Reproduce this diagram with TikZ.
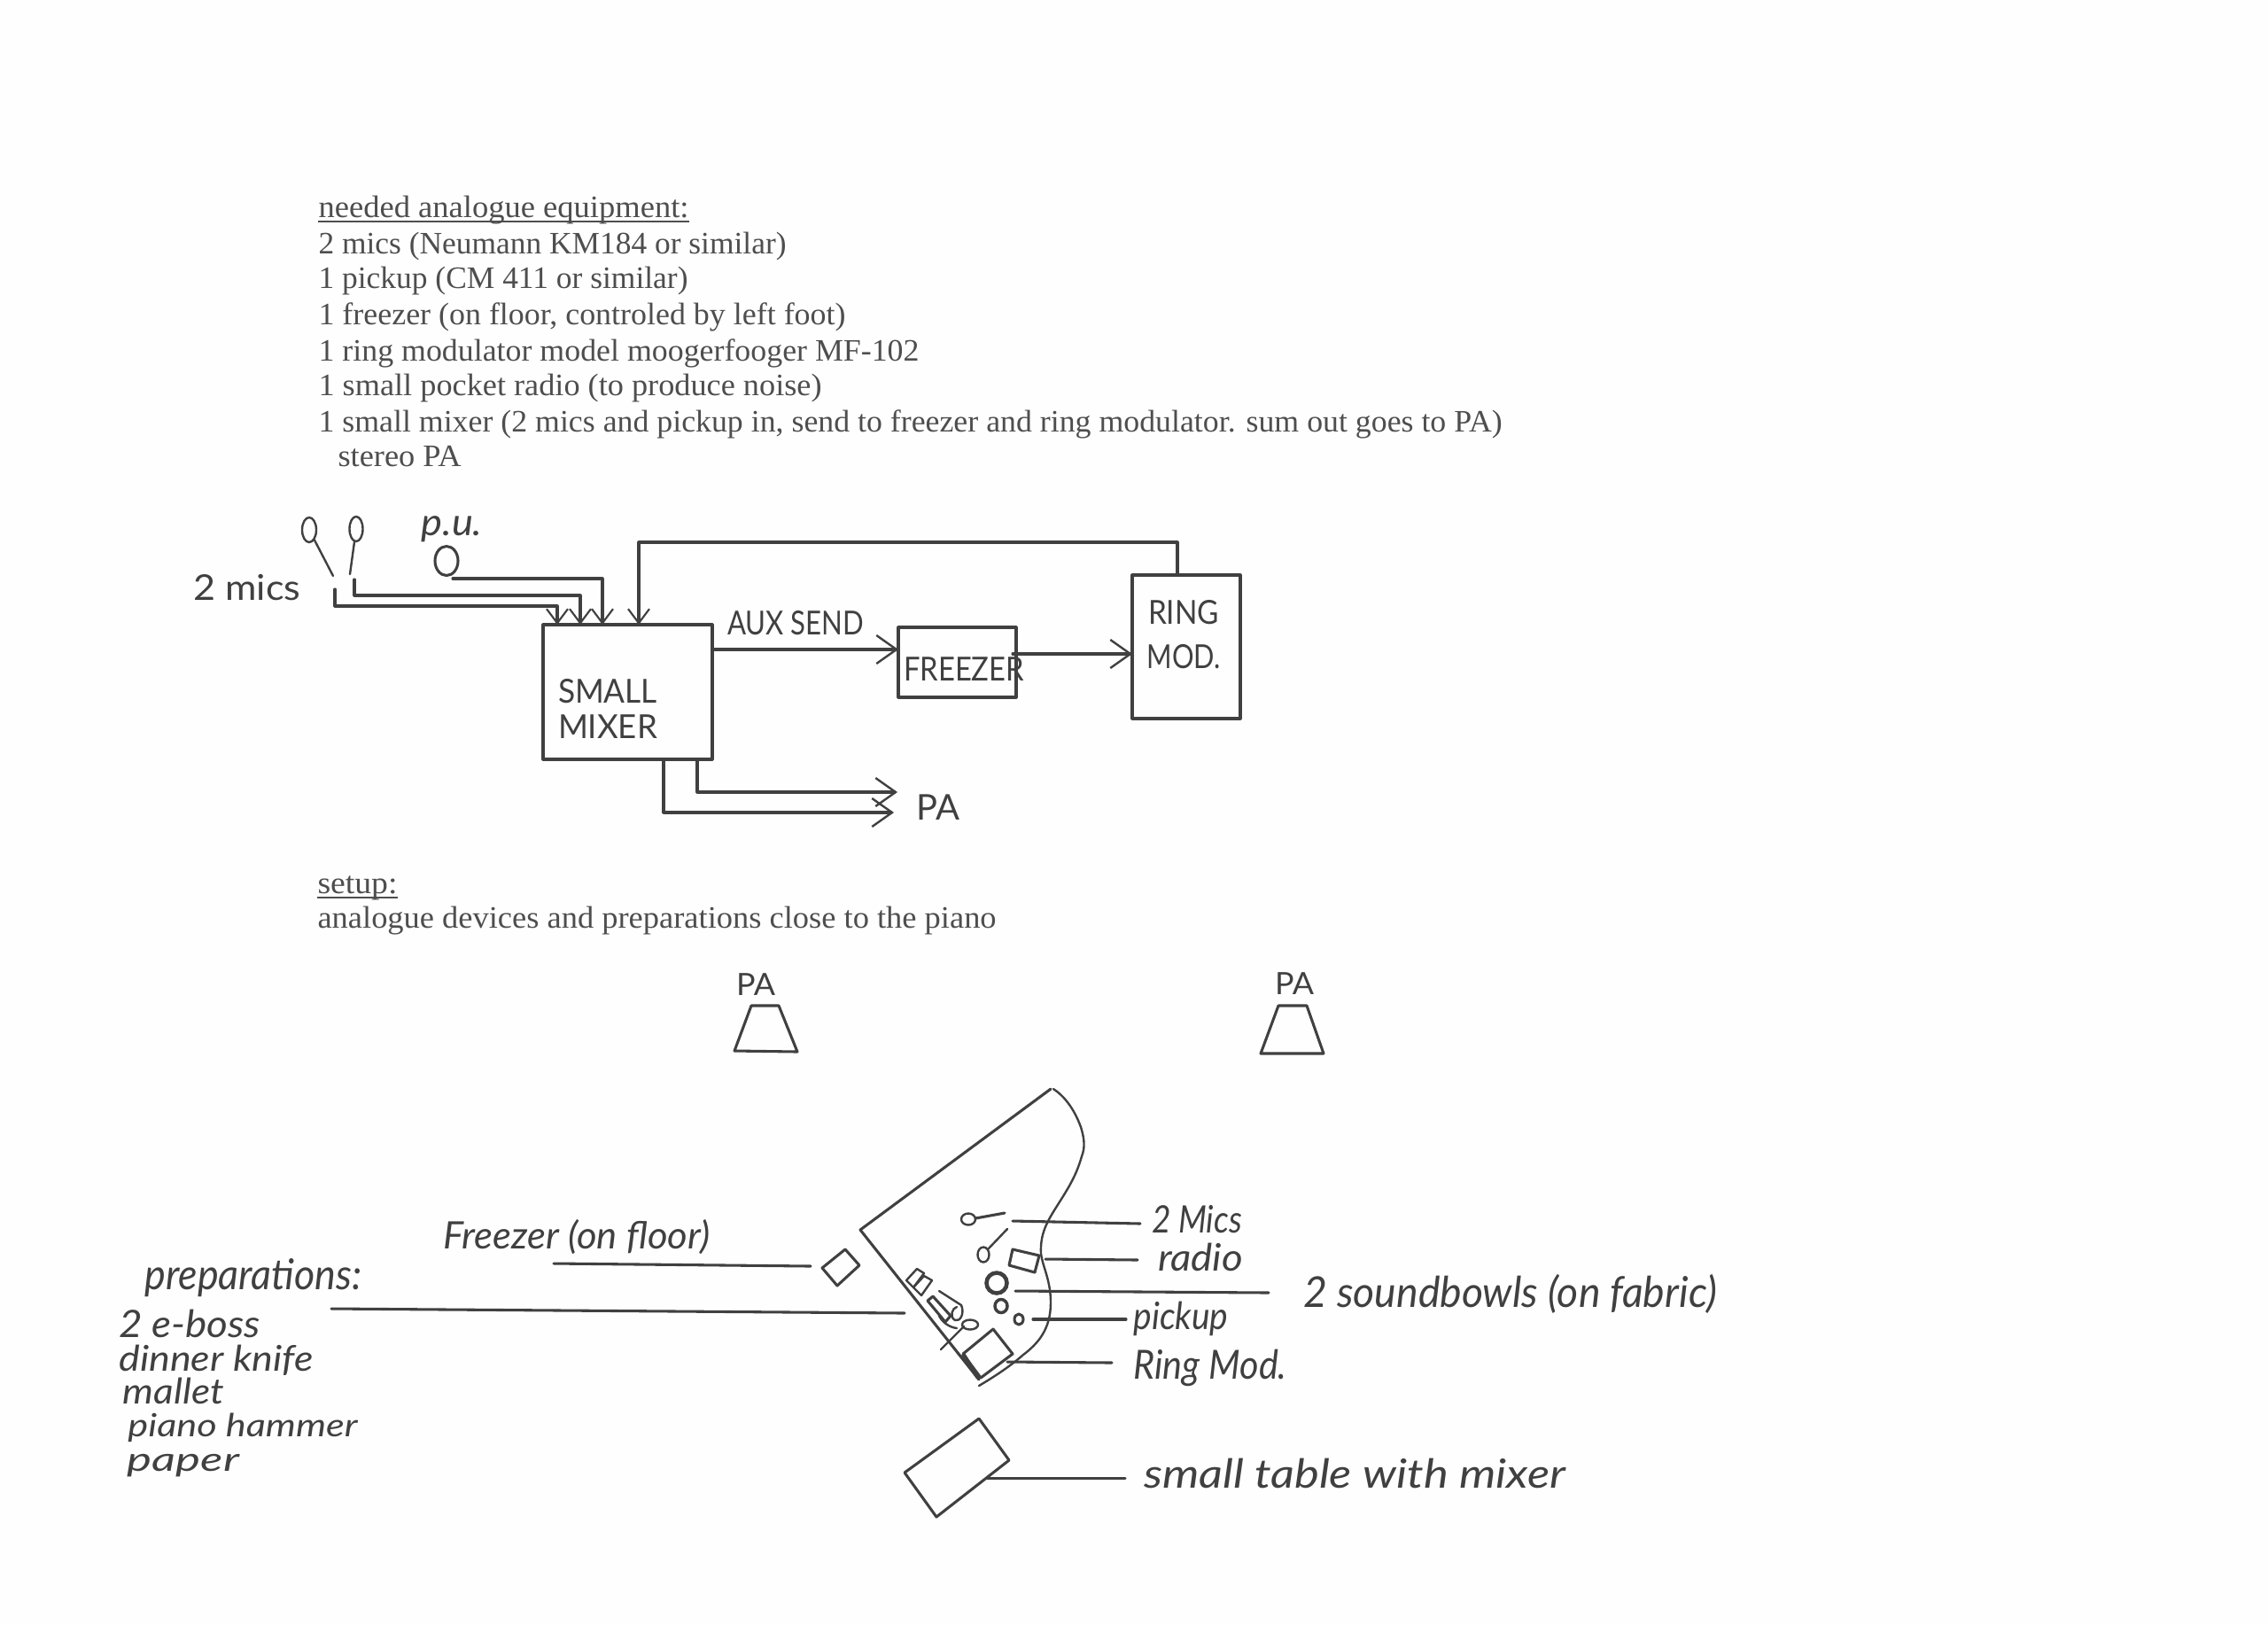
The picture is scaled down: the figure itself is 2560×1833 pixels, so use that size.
\documentclass[tikz,border=0pt]{standalone}
\usepackage{fontspec}
\usepackage{graphicx}
\usetikzlibrary{arrows.meta,shapes.geometric}
\setmainfont{Liberation Serif}
\newfontfamily\handfont{Lato}
\definecolor{ink}{HTML}{404040}
\definecolor{typed}{HTML}{4E4E4E}
\definecolor{paper}{HTML}{FEFEFE}
\newdimen\pxu \pxu=.375pt
\newcommand{\fitw}[2]{\resizebox{#1\pxu}{\height}{#2}}
\tikzset{
  pen/.style={draw=ink,line width=1.15pt,line join=round,line cap=round},
  fine/.style={draw=ink,line width=.9pt,line join=round,line cap=round},
  wire/.style={pen,-{Straight Barb[length=6pt,width=9pt,line width=.8pt]}},
  bigwire/.style={pen,-{Straight Barb[length=8.5pt,width=12pt,line width=.9pt]}},
  boxnode/.style={pen,inner sep=0pt},
  rulebelow/.style={draw=typed,line width=.6pt},
  tline/.style={anchor=base west,inner sep=0pt,text=typed,font=\fontsize{13.2}{15}\selectfont},
  caps/.style={inner sep=0pt,text=ink,align=center,font=\handfont\fontsize{14}{16}\selectfont},
  hand/.style={inner sep=0pt,text=ink,font=\handfont\itshape\fontsize{16}{18}\selectfont},
}
\begin{document}
\begin{tikzpicture}[x=.375pt,y=-.375pt]
\useasboundingbox[fill=paper] (0,0) rectangle (2560,1833);

% typed text
\node[tline] (t1) at (359,245) {\fitw{418}{needed analogue equipment:}};
\node[tline] (t2) at (359,286) {\fitw{528}{2 mics (Neumann KM184 or similar)}};
\node[tline] (t3) at (359,325) {\fitw{417}{1 pickup (CM 411 or similar)}};
\node[tline] (t4) at (359,366) {\fitw{595}{1 freezer (on floor, controled by left foot)}};
\node[tline] (t5) at (359,407) {\fitw{678}{1 ring modulator model moogerfooger MF-102}};
\node[tline] (t6) at (359,446) {\fitw{568}{1 small pocket radio (to produce noise)}};
\node[tline] (t7) at (359,487) {\fitw{1336}{1 small mixer (2 mics and pickup in, send to freezer and ring modulator. sum out goes to PA)}};
\node[tline] (t8) at (381,526) {\fitw{139}{stereo PA}};
\node[tline] (t9) at (358,1008) {\fitw{90}{setup:}};
\node[tline] (t10) at (358,1047) {\fitw{766}{analogue devices and preparations close to the piano}};
\draw[rulebelow] ([yshift=-5\pxu]t1.base west) -- ([yshift=-5\pxu]t1.base east);
\draw[rulebelow] ([yshift=-5\pxu]t9.base west) -- ([yshift=-5\pxu]t9.base east);

% block diagram
\node[boxnode,minimum width=191\pxu,minimum height=152\pxu] (mixer) at (708.5,781) {};
\node[boxnode,minimum width=133\pxu,minimum height=79\pxu] (freezer) at (1080.5,747.5) {};
\node[boxnode,minimum width=122\pxu,minimum height=162\pxu] (ring) at (1339,730) {};
\node[caps] (mixerlabel) at (686,800) {\fitw{112}{SMALL}\\[-1pt]\fitw{112}{MIXER}};
\node[caps] (freezerlabel) at (1088,755) {\fitw{136}{FREEZER}};
\node[caps] (ringlabel) at (1336,716) {\fitw{80}{RING}\\[3pt]\fitw{83}{MOD.}};
\node[caps] (auxlabel) at (898,703) {\fitw{154}{AUX SEND}};
\node[caps,font=\handfont\fontsize{15}{16}\selectfont] (palabel) at (1059,911) {\fitw{49}{PA}};
\node[hand,font=\handfont\fontsize{15}{16}\selectfont] (micslabel) at (279,663) {\fitw{121}{2 mics}};
\node[hand,font=\handfont\itshape\fontsize{16}{18}\selectfont] (pulabel) at (510,597) {\fitw{69}{p.u.}};

\node[fine,ellipse,inner sep=0pt,minimum width=16\pxu,minimum height=28\pxu] (mic1) at (349,598) {};
\node[fine,ellipse,inner sep=0pt,minimum width=15\pxu,minimum height=28\pxu] (mic2) at (402,597) {};
\node[pen,ellipse,inner sep=0pt,minimum width=26\pxu,minimum height=33\pxu] (pu) at (504,633) {};
\coordinate (s1) at (376,650);
\coordinate (s2) at (395,648);
\draw[fine] (mic1) -- (s1);
\draw[fine] (mic2) -- (s2);

\coordinate (a1) at (378,665); \coordinate (a1a) at (378,684); \coordinate (a1b) at (629,684); \coordinate (a1c) at (629,705);
\coordinate (a2) at (400,654); \coordinate (a2a) at (400,672); \coordinate (a2b) at (655,672); \coordinate (a2c) at (655,705);
\coordinate (a3) at (511,653); \coordinate (a3b) at (680,653); \coordinate (a3c) at (680,705);
\coordinate (fb1) at (1329,649); \coordinate (fb2) at (1329,612); \coordinate (fb3) at (721,612); \coordinate (fb4) at (721,705);
\draw[wire] (a1) -- (a1a) -- (a1b) -- (a1c);
\draw[wire] (a2) -- (a2a) -- (a2b) -- (a2c);
\draw[wire] (a3) -- (a3b) -- (a3c);
\draw[wire] (fb1) -- (fb2) -- (fb3) -- (fb4);
\coordinate (x1) at (804,733); \coordinate (x2) at (1014,733);
\coordinate (x3) at (1143,738); \coordinate (x4) at (1278,738);
\draw[bigwire] (x1) -- (x2);
\draw[bigwire] (x3) -- (x4);
\coordinate (p1) at (787,857); \coordinate (p1a) at (787,894); \coordinate (p1b) at (1013,894);
\coordinate (p2) at (749,857); \coordinate (p2a) at (749,917); \coordinate (p2b) at (1009,917);
\draw[bigwire] (p1) -- (p1a) -- (p1b);
\draw[bigwire] (p2) -- (p2a) -- (p2b);

% speakers
\draw[pen] (848,1135) -- (879,1135) -- (900,1187) -- (829,1186) -- cycle;
\draw[pen] (1443,1135) -- (1475,1135) -- (1494,1189) -- (1423,1189) -- cycle;
\node[caps,font=\handfont\fontsize{13}{14}\selectfont] (pa1) at (853,1111) {\fitw{44}{PA}};
\node[caps,font=\handfont\fontsize{13}{14}\selectfont] (pa2) at (1461,1110) {\fitw{44}{PA}};

% piano
\draw[pen] (1105,1557) -- (971,1388) -- (1186,1229);
\draw[fine] (1189,1229) .. controls (1200,1236) and (1212,1250) .. (1220,1272)
  .. controls (1224,1285) and (1225,1295) .. (1221,1305)
  .. controls (1214,1330) and (1203,1345) .. (1190,1366)
  .. controls (1180,1382) and (1174,1395) .. (1175,1415)
  .. controls (1177,1430) and (1186,1445) .. (1186,1470)
  .. controls (1186,1500) and (1172,1516) .. (1155,1529)
  .. controls (1140,1542) and (1125,1552) .. (1105,1564);
% mics on piano
\draw[fine] (1093,1376) circle[x radius=8,y radius=6.5];
\draw[pen] (1101,1375) -- (1134,1369);
\draw[fine] (1110,1416) circle[x radius=6.5,y radius=8.5];
\draw[fine] (1115,1410) -- (1137,1387);
% radio
\draw[pen] (1143,1410) -- (1173,1417) -- (1168,1436) -- (1139,1428) -- cycle;
% bowls
\draw[line width=1.7pt,draw=ink] (1125,1448) circle[radius=11.5];
\draw[line width=1.3pt,draw=ink] (1130,1474) circle[x radius=7,y radius=7.5];
\draw[pen] (1150,1489) circle[x radius=5,y radius=6];
% ring mod and preparations on piano
\draw[pen] (1121,1500) -- (1143,1528) -- (1107,1555) -- (1087,1528) -- cycle;
\draw[line width=1.7pt,draw=ink] (1087,1528) -- (1104,1555);
\draw[fine] (1023,1445) -- (1035,1432) -- (1043,1437) -- (1031,1453) -- cycle;
\draw[fine] (1031,1453) -- (1043,1440) -- (1052,1445) -- (1040,1462) -- cycle;
\draw[pen] (1047,1468) -- (1053,1463) -- (1073,1485) -- (1067,1492) -- cycle;
\draw[fine] (1060,1457) -- (1085,1473) .. controls (1089,1482) and (1084,1492) .. (1078,1490) .. controls (1071,1486) and (1075,1476) .. (1080,1475);
\draw[fine] (1060,1485) .. controls (1064,1493) and (1072,1498) .. (1080,1499);
\draw[fine] (1095,1495) circle[x radius=9,y radius=5.5];
\draw[fine] (1088,1497) -- (1062,1523);
% freezer on floor
\draw[pen] (954,1410) -- (970,1428) -- (945,1451) -- (928,1431) -- cycle;
% table
\draw[pen] (1105,1601) -- (1139,1648) -- (1057,1712) -- (1021,1662) -- cycle;

% leader lines
\coordinate (l1a) at (1143,1378); \coordinate (l1b) at (1287,1381);
\coordinate (l2a) at (1180,1421); \coordinate (l2b) at (1284,1422);
\coordinate (l3a) at (1146,1457); \coordinate (l3b) at (1432,1459);
\coordinate (l4a) at (1166,1489); \coordinate (l4b) at (1271,1489);
\coordinate (l5a) at (1137,1537); \coordinate (l5b) at (1255,1538);
\coordinate (l6a) at (1114,1668); \coordinate (l6b) at (1270,1668);
\coordinate (l7a) at (625,1426); \coordinate (l7b) at (915,1429);
\coordinate (l8a) at (374,1477); \coordinate (l8b) at (1021,1482);
\draw[pen] (l1a) -- (l1b);
\draw[pen] (l2a) -- (l2b);
\draw[pen] (l3a) -- (l3b);
\draw[pen] (l4a) -- (l4b);
\draw[pen] (l5a) -- (l5b);
\draw[pen] (l6a) -- (l6b);
\draw[pen] (l7a) -- (l7b);
\draw[pen] (l8a) -- (l8b);

% handwritten labels
\node[hand] (h1) at (1351,1376) {\fitw{102}{2 Mics}};
\node[hand] (h2) at (1355,1419) {\fitw{96}{radio}};
\node[hand] (h3) at (1333,1488) {\fitw{107}{pickup}};
\node[hand,font=\handfont\itshape\fontsize{17}{18}\selectfont] (h4) at (1366,1544) {\fitw{173}{Ring Mod.}};
\node[hand,font=\handfont\itshape\fontsize{18}{20}\selectfont] (h5) at (1705,1460) {\fitw{467}{2 soundbowls (on fabric)}};
\node[hand,font=\handfont\itshape\fontsize{17}{20}\selectfont] (h6) at (1529,1663) {\fitw{476}{small table  with mixer}};
\node[hand,font=\handfont\itshape\fontsize{16}{20}\selectfont] (h7) at (651,1396) {\fitw{301}{Freezer (on floor)}};
\node[hand,font=\handfont\itshape\fontsize{18}{20}\selectfont] (h8) at (286,1442) {\fitw{245}{preparations:}};
\node[hand] (h9) at (214,1494) {\fitw{160}{2 e-boss}};
\node[hand,font=\handfont\itshape\fontsize{15}{18}\selectfont] (h10) at (244,1535) {\fitw{219}{dinner knife}};
\node[hand,font=\handfont\itshape\fontsize{15}{18}\selectfont] (h11) at (196,1570) {\fitw{114}{mallet}};
\node[hand,font=\handfont\itshape\fontsize{13.5}{18}\selectfont] (h12) at (274,1611) {\fitw{259}{piano hammer}};
\node[hand,font=\handfont\itshape\fontsize{14}{18}\selectfont] (h13) at (207,1654) {\fitw{126}{paper}};
\end{tikzpicture}
\end{document}
